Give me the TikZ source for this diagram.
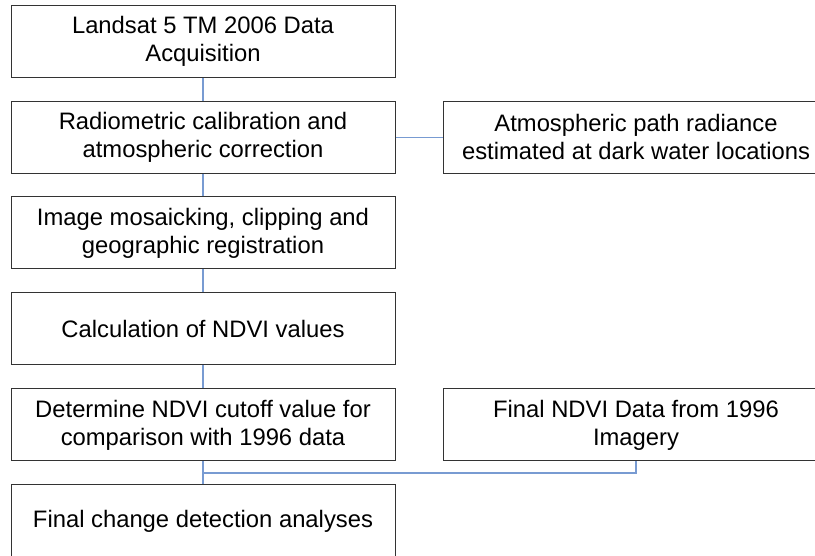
\documentclass[tikz,border=0pt]{standalone}
\usepackage{fontspec}
\setmainfont{Liberation Sans}
\usetikzlibrary{positioning,calc}
\definecolor{linkblue}{RGB}{120,155,210}
\tikzset{
  stepbox/.style={draw=black!80, line width=1pt, minimum width=384pt, minimum height=72pt,
    align=center, font=\fontsize{23.8}{28}\selectfont, inner sep=0pt},
  link/.style={draw=linkblue, line width=1.4pt}
}
\begin{document}
\begin{tikzpicture}[x=1pt,y=1pt]
    % Cadre de la figure
    \useasboundingbox (0,0) rectangle (815,556);
    \clip (0,0) rectangle (815,556);

    % Colonne de gauche
    \node[stepbox] (acq) at (203,514.5) {Landsat 5 TM 2006 Data\\Acquisition};
    \node[stepbox] (calib) at (203,418.5) {Radiometric calibration and\\atmospheric correction};
    \node[stepbox] (mosaic) at (203,323) {Image mosaicking, clipping and\\geographic registration};
    \node[stepbox] (ndvi) at (203,227) {Calculation of NDVI values};
    \node[stepbox] (cutoff) at (203,131) {Determine NDVI cutoff value for\\comparison with 1996 data};
    \node[stepbox] (change) at (203,35) {Final change detection analyses};

    % Colonne de droite
    \node[stepbox, minimum width=386pt] (path) at (636,418.5) {Atmospheric path radiance\\estimated at dark water locations};
    \node[stepbox, minimum width=386pt] (old) at (636,131) {Final NDVI Data from 1996\\Imagery};

    % Liens
    \draw[link] (acq) -- (calib);
    \draw[link] (calib) -- (mosaic);
    \draw[link] (mosaic) -- (ndvi);
    \draw[link] (ndvi) -- (cutoff);
    \draw[link] (cutoff) -- (change);
    \draw[link] (calib) -- (path);
    \coordinate (join) at ($(cutoff.south)!0.5!(change.north)$);
    \draw[link] (old.south) |- (join);
\end{tikzpicture}
\end{document}
